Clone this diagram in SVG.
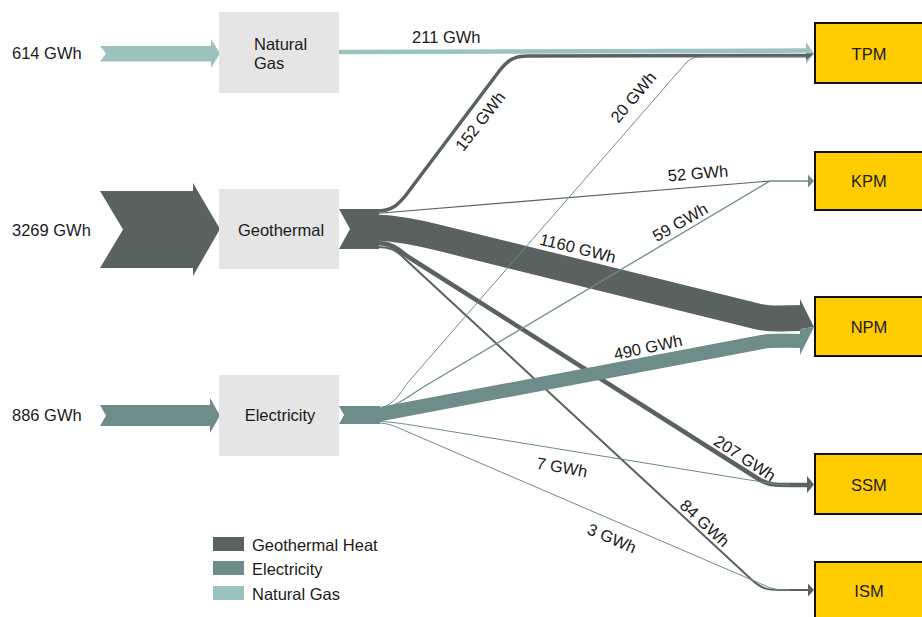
<svg xmlns="http://www.w3.org/2000/svg" width="922" height="617" viewBox="0 0 922 617">
  <style>
    text { font-family: "Liberation Sans", Arial, sans-serif; font-size: 16.5px; fill: #1a1a1a; }
    .src { fill: #e5e5e5; }
    .dst { fill: #ffcc00; stroke: #111; stroke-width: 2; }
    .geo { fill: #5a625f; }
    .ele { fill: #6e8c88; }
    .gas { fill: #9cc2be; }
    .fgeo { fill: none; stroke: #5a625f; }
    .fele { fill: none; stroke: #6e8c88; }
    .fgas { fill: none; stroke: #9cc2be; }
    .mid { text-anchor: middle; }
  </style>

  <!-- input arrows -->
  <g id="inputs">
    <polygon class="gas" points="100,46 211,46 211,39 220,53.5 211,68 211,61.5 100,61.5 106,53.5"/>
    <polygon class="geo" points="100,191 193,191 193,183 220,229 193,276 193,268 100,268 123,229.5"/>
    <polygon class="ele" points="100,405 210,405 210,398 220,415.5 210,433 210,426 100,426 106,415.5"/>
    <text x="12" y="59">614 GWh</text>
    <text x="12" y="236">3269 GWh</text>
    <text x="12" y="420.5">886 GWh</text>
  </g>

  <!-- source nodes -->
  <g id="node-natural-gas">
    <rect class="src" x="219" y="12" width="120" height="81"/>
    <text x="254" y="49.5">Natural</text>
    <text x="254" y="69">Gas</text>
  </g>
  <g id="node-geothermal">
    <rect class="src" x="219" y="189" width="120" height="80"/>
    <text class="mid" x="281" y="236">Geothermal</text>
  </g>
  <g id="node-electricity">
    <rect class="src" x="219" y="375" width="120" height="81"/>
    <text class="mid" x="280" y="420.5">Electricity</text>
  </g>

  <!-- flows -->
  <g id="connectors">
    <!-- trunks leaving the source nodes -->
    <polygon class="geo" points="339,209 379,209 379,249 339,249 350,229"/>
    <polygon class="ele" points="339,406 380,406 380,424 339,424 344,415"/>

    <!-- natural gas -->
    <path class="fgas" stroke-width="4.5" d="M339,52 L808,50.5"/>

    <!-- geothermal heat -->
    <path class="fgeo" stroke-width="3.5" d="M376,211 C392,211 398,205 406,195 L500,70 C508,60 514,56 528,56 L808,55.5"/>
    <path class="fgeo" stroke-width="1.2" d="M376,213.5 L770,181"/>
    <path class="fgeo" stroke-width="26" d="M376,227.5 C400,228.5 420,233 440,238 L760,317 C775,320 785,318 802,318"/>
    <path class="fgeo" stroke-width="4.5" d="M376,243 C395,243 400,252 410,258 L760,480 C770,485 775,485 790,485 L808,485"/>
    <path class="fgeo" stroke-width="2" d="M376,247 C393,247 398,252 405,259 L752,580 C762,589 768,590 780,590 L808,590"/>

    <!-- electricity -->
    <path class="fele" stroke-width="1" d="M376,408 C394,408 400,392 410,380 L686,63 C692,57 696,57 706,57 L808,57"/>
    <path class="fele" stroke-width="1.3" d="M376,409 C395,409 410,395 425,386 L770,181 L808,181"/>
    <path class="fele" stroke-width="14" d="M376,415 L762,342 C772,340 782,341 802,341"/>
    <path class="fele" stroke-width="1" d="M376,421.5 C390,421.5 395,423 405,424 L768,483 C775,484 780,485 790,485"/>
    <path class="fele" stroke-width="1" d="M376,423 C392,423 398,428 408,432 L766,586 C772,589 778,590 790,590"/>

    <!-- arrowheads at the consumers -->
    <polygon class="gas" points="806,42 814,53.5 806,64"/>
    <polygon class="geo" points="806,53.5 814,53.5 806,60"/>
    <polygon class="ele" points="808,174.5 814,181 808,187.5"/>
    <polygon class="geo" points="800,299 814,327 800,329"/>
    <polygon class="ele" points="800,329 814,327 800,355"/>
    <polygon class="geo" points="807,476 814,484.5 807,493"/>
    <polygon class="geo" points="808,583.5 814,590 808,596.5"/>

    <!-- flow labels -->
    <text x="412" y="43">211 GWh</text>
    <text class="mid" transform="translate(480,121) rotate(-52)" y="6">152 GWh</text>
    <text class="mid" transform="translate(633,97) rotate(-50)" y="6">20 GWh</text>
    <text class="mid" transform="translate(698,173) rotate(-5)" y="6">52 GWh</text>
    <text class="mid" transform="translate(680,222) rotate(-30)" y="6">59 GWh</text>
    <text class="mid" transform="translate(578,248) rotate(14)" y="6">1160 GWh</text>
    <text class="mid" transform="translate(648,347) rotate(-12)" y="6">490 GWh</text>
    <text class="mid" transform="translate(745,458) rotate(33)" y="6">207 GWh</text>
    <text class="mid" transform="translate(562,467) rotate(10)" y="6">7 GWh</text>
    <text class="mid" transform="translate(705,523) rotate(43)" y="6">84 GWh</text>
    <text class="mid" transform="translate(612,538) rotate(23)" y="6">3 GWh</text>
  </g>

  <!-- consumer nodes -->
  <g id="node-tpm">
    <rect class="dst" x="815" y="23" width="112" height="60"/>
    <text class="mid" x="869" y="60">TPM</text>
  </g>
  <g id="node-kpm">
    <rect class="dst" x="815" y="152" width="112" height="58"/>
    <text class="mid" x="869" y="187">KPM</text>
  </g>
  <g id="node-npm">
    <rect class="dst" x="815" y="297" width="112" height="59"/>
    <text class="mid" x="869" y="333">NPM</text>
  </g>
  <g id="node-ssm">
    <rect class="dst" x="815" y="454" width="112" height="60"/>
    <text class="mid" x="869" y="491">SSM</text>
  </g>
  <g id="node-ism">
    <rect class="dst" x="815" y="562" width="112" height="60"/>
    <text class="mid" x="869" y="597">ISM</text>
  </g>

  <!-- legend -->
  <g id="legend">
    <rect class="geo" x="213" y="537" width="31" height="14"/>
    <rect class="ele" x="213" y="561" width="31" height="14"/>
    <rect class="gas" x="213" y="586" width="31" height="14"/>
    <text x="252" y="551">Geothermal Heat</text>
    <text x="252" y="575">Electricity</text>
    <text x="252" y="600">Natural Gas</text>
  </g>
</svg>
